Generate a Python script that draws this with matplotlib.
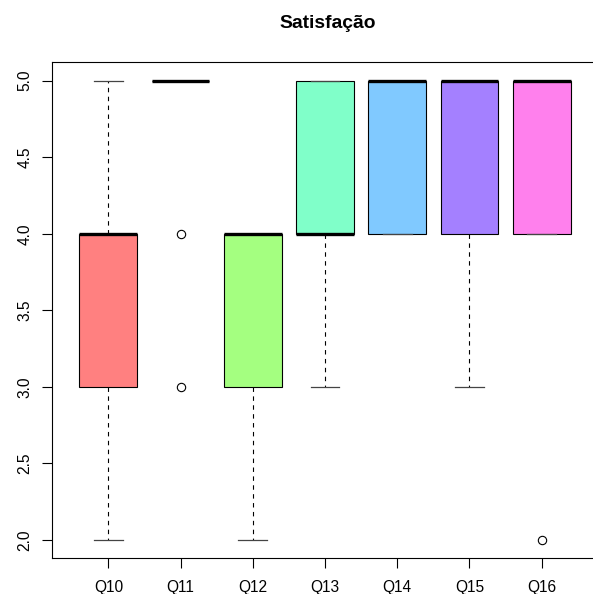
import matplotlib
matplotlib.use("Agg")
import matplotlib.pyplot as plt

categories = ["Q10", "Q11", "Q12", "Q13", "Q14", "Q15", "Q16"]
whislo = [2.0, 5.0, 2.0, 3.0, 4.0, 3.0, 4.0]
q1 = [3.0, 5.0, 3.0, 4.0, 4.0, 4.0, 4.0]
med = [4.0, 5.0, 4.0, 4.0, 5.0, 5.0, 5.0]
q3 = [4.0, 5.0, 4.0, 5.0, 5.0, 5.0, 5.0]
whishi = [5.0, 5.0, 4.0, 5.0, 5.0, 5.0, 5.0]
fliers = [[], [4.0, 3.0], [], [], [], [], [2.0]]
colors = ["#FF8080", "#FFED80", "#A4FF80", "#80FFC9", "#80C9FF", "#A480FF", "#FF80ED"]
yticks = [2.0, 2.5, 3.0, 3.5, 4.0, 4.5, 5.0]
title = "Satisfação"

plt.rcParams["font.family"] = ["Liberation Sans", "DejaVu Sans"]

fig = plt.figure(figsize=(5.93, 5.94), dpi=100)
ax = fig.add_axes([52 / 593, 1 - 558.4 / 594, 546 / 593, 496.1 / 594])

stats = []
for i, c in enumerate(categories):
    stats.append(dict(label=c, whislo=whislo[i], q1=q1[i], med=med[i],
                      q3=q3[i], whishi=whishi[i], fliers=fliers[i]))

pos = list(range(1, len(categories) + 1))
bp = ax.bxp(stats, positions=pos, widths=0.8, capwidths=0.4, patch_artist=True,
            boxprops=dict(edgecolor="black", linewidth=0.8),
            medianprops=dict(color="black", linewidth=2.4, solid_capstyle="butt"),
            whiskerprops=dict(color="black", linewidth=0.8, linestyle=(0, (4, 4))),
            capprops=dict(color="#444444", linewidth=0.9),
            flierprops=dict(marker="o", markerfacecolor="none", markeredgecolor="black",
                            markersize=6, markeredgewidth=0.8))
for patch, col in zip(bp["boxes"], colors):
    patch.set_facecolor(col)

ax.set_xlim(0.22, 7.78)
ax.set_ylim(1.88, 5.12)
ax.set_xticks(pos)
ax.set_xticklabels(categories, fontsize=11.2)
ax.set_yticks(yticks)
ax.set_yticklabels([f"{v:.1f}" for v in yticks], fontsize=11.2, rotation=90, va="center")
ax.tick_params(axis="x", length=7, width=0.8, pad=8.5)
ax.tick_params(axis="y", length=7, width=0.8, pad=7)
for s in ax.spines.values():
    s.set_linewidth(0.8)
    s.set_color("black")

fig.text(328 / 593, 1 - 24 / 594, title, fontsize=13.9, fontweight="bold",
         ha="center", va="center")

fig.savefig("out.png", dpi=100)
